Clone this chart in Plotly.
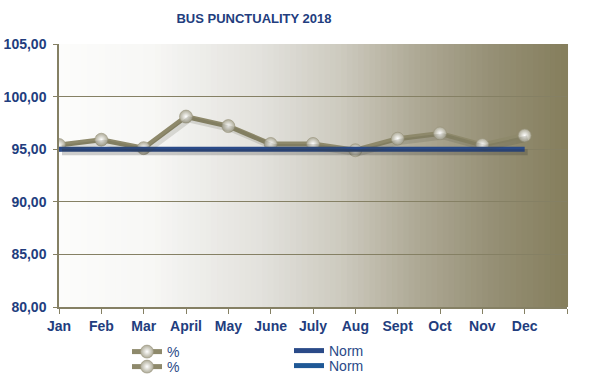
import plotly.graph_objects as go

months = ["Jan", "Feb", "Mar", "April", "May", "June", "July", "Aug", "Sept", "Oct", "Nov", "Dec"]
punctuality = [95.4, 95.9, 95.1, 98.1, 97.2, 95.5, 95.5, 94.9, 96.0, 96.5, 95.4, 96.3]
norm = [95.0] * 12
y_ticks = [80, 85, 90, 95, 100, 105]
y_labels = ["80,00", "85,00", "90,00", "95,00", "100,00", "105,00"]

xpos = list(range(len(months)))

NAVY = "#223d7e"
OLIVE_LINE = "#8e896b"
NORM_BLUE = "#2a4a88"
NORM_BLUE2 = "#1f5896"
GRID = "#858064"

fig = go.Figure()

def lerp(c1, c2, t):
    return tuple(round(a + (b - a) * t) for a, b in zip(c1, c2))

stops = [(0.0, (252, 252, 251)), (0.18, (247, 247, 245)), (0.40, (226, 225, 220)),
         (0.55, (206, 203, 192)), (0.70, (175, 170, 150)), (0.85, (150, 144, 118)),
         (1.0, (133, 126, 92))]
N = 90
shapes = []
for i in range(N):
    t = (i + 0.5) / N
    for j in range(len(stops) - 1):
        if stops[j][0] <= t <= stops[j + 1][0]:
            tt = (t - stops[j][0]) / (stops[j + 1][0] - stops[j][0])
            c = lerp(stops[j][1], stops[j + 1][1], tt)
            break
    shapes.append(dict(type="rect", xref="paper", yref="paper", x0=i / N, x1=(i + 1) / N + 0.002,
                       y0=0, y1=1, fillcolor="rgb(%d,%d,%d)" % c, line=dict(width=0), layer="below"))

# soft shadows on shifted overlay axes
fig.add_trace(go.Scatter(x=xpos, y=punctuality, mode="lines", xaxis="x2", yaxis="y2",
                         line=dict(color="rgba(70,66,50,0.16)", width=6), showlegend=False, hoverinfo="skip"))
fig.add_trace(go.Scatter(x=xpos, y=norm, mode="lines", xaxis="x2", yaxis="y2",
                         line=dict(color="rgba(40,40,40,0.22)", width=6), showlegend=False, hoverinfo="skip"))

marker_style = dict(size=13, color="#aeab98", gradient=dict(type="radial", color="#ffffff"),
                    line=dict(width=0.6, color="#98947c"))

fig.add_trace(go.Scatter(x=xpos, y=punctuality, mode="lines+markers", name="%",
                         line=dict(color=OLIVE_LINE, width=5), marker=marker_style, legend="legend"))
fig.add_trace(go.Scatter(x=xpos, y=norm, mode="lines", name="Norm",
                         line=dict(color=NORM_BLUE, width=5), legend="legend3"))
fig.add_trace(go.Scatter(x=[None], y=[None], mode="lines+markers", name="%",
                         line=dict(color=OLIVE_LINE, width=5), marker=marker_style, legend="legend2"))
fig.add_trace(go.Scatter(x=[None], y=[None], mode="lines", name="Norm",
                         line=dict(color=NORM_BLUE2, width=5), legend="legend4"))

L, T, W, H = 59, 44, 508, 263
def px(x):
    return (x - L) / W
def py(y):
    return (T + H - y) / H

leg_common = dict(font=dict(family="Liberation Sans, Arial", size=14, color=NORM_BLUE),
                  bgcolor="rgba(0,0,0,0)", borderwidth=0, xanchor="left", yanchor="middle",
                  itemwidth=30, tracegroupgap=0)

dshift_x = 3 * 12 / W
dshift_y = 3 * 25 / H

fig.update_layout(
    width=589, height=378,
    margin=dict(l=L, r=589 - L - W, t=T, b=378 - T - H, autoexpand=False),
    paper_bgcolor="white", plot_bgcolor="white",
    shapes=shapes,
    title=dict(text="<b>BUS PUNCTUALITY 2018</b>", x=254 / 589, xanchor="center", y=1 - 18 / 378, yanchor="middle",
               font=dict(family="Liberation Sans, Arial", size=13, color=NAVY)),
    xaxis=dict(range=[0, 12], tickvals=list(range(13)), ticktext=months + [""], showgrid=False,
               showline=True, linecolor=GRID, linewidth=1.5, ticks="outside", ticklen=5, tickcolor=GRID,
               tickfont=dict(family="Liberation Sans, Arial", size=14, color=NAVY, weight="bold"),
               zeroline=False, fixedrange=True),
    yaxis=dict(range=[80, 105], tickvals=y_ticks, ticktext=y_labels, showgrid=True, gridcolor=GRID, gridwidth=1,
               showline=True, linecolor=GRID, linewidth=1.5, ticks="outside", ticklen=4, tickcolor=GRID,
               ticklabelstandoff=4,
               tickfont=dict(family="Liberation Sans, Arial", size=14, color=NAVY, weight="bold"),
               zeroline=False, fixedrange=True),
    xaxis2=dict(range=[-dshift_x, 12 - dshift_x], overlaying="x", visible=False, fixedrange=True),
    yaxis2=dict(range=[80 + dshift_y, 105 + dshift_y], overlaying="y", visible=False, fixedrange=True),
    legend=dict(x=px(127), y=py(352), **leg_common),
    legend2=dict(x=px(127), y=py(367), **leg_common),
    legend3=dict(x=px(289), y=py(351), **leg_common),
    legend4=dict(x=px(289), y=py(366), **leg_common),
)

fig.write_html("out.html")
